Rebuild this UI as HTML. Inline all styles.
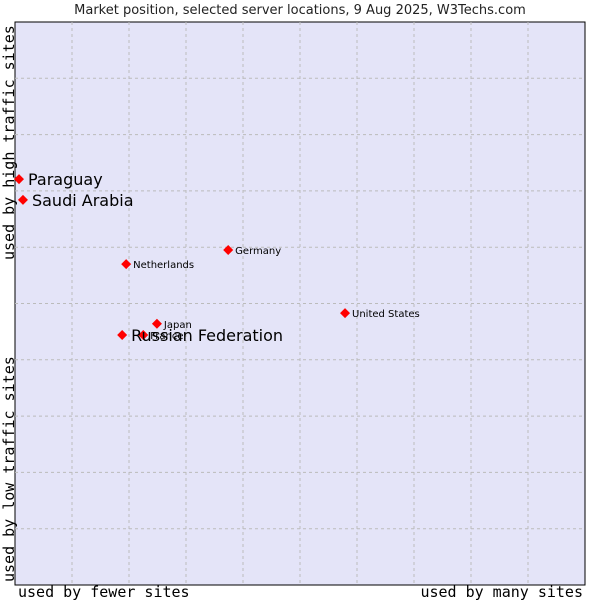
<!DOCTYPE html>
<html><head><meta charset="utf-8"><style>
body{margin:0;background:#fff;width:600px;height:600px;overflow:hidden}
svg text{font-family:"DejaVu Sans","Liberation Sans",sans-serif}
</style></head><body>
<svg id="chart" width="600" height="600">
<text x="300" y="14" text-anchor="middle" font-size="13" fill="#222">Market position, selected server locations, 9 Aug 2025, W3Techs.com</text>
<rect x="15" y="22" width="570" height="563" fill="#e4e4f8" stroke="#000" stroke-width="1"/>
<g id="grid"></g>
<g id="points"></g>
<text x="18" y="597" font-size="15" fill="#000" style="font-family:'DejaVu Sans Mono',monospace">used by fewer sites</text>
<text x="583" y="597" text-anchor="end" font-size="15" fill="#000" style="font-family:'DejaVu Sans Mono',monospace">used by many sites</text>
<text transform="translate(14,582) rotate(-90)" font-size="15" fill="#000" style="font-family:'DejaVu Sans Mono',monospace">used by low traffic sites</text>
<text transform="translate(14,260) rotate(-90)" font-size="15" fill="#000" style="font-family:'DejaVu Sans Mono',monospace">used by high traffic sites</text>
</svg>
<script>
const names=["Paraguay","Saudi Arabia","Netherlands","Germany","United States","Japan","France","Russian Federation"];
const xValues=[0.7,1.4,19.5,37.4,57.9,24.9,22.5,18.8];
const yValues=[72.1,68.4,57.0,59.5,48.3,46.4,44.4,44.4];
const bigLabel=[true,true,false,false,false,false,false,true];
const gridTicks=[10,20,30,40,50,60,70,80,90];
const L=15,R=585,T=22,B=585;
const sx=v=>L+v/100*(R-L);
const sy=v=>B-v/100*(B-T);
const NS="http://www.w3.org/2000/svg";
const grid=document.getElementById('grid');
gridTicks.forEach(t=>{
  const v=document.createElementNS(NS,'line');
  v.setAttribute('x1',sx(t));v.setAttribute('x2',sx(t));v.setAttribute('y1',T);v.setAttribute('y2',B);
  v.setAttribute('stroke','#bbb');v.setAttribute('stroke-dasharray','3,3');
  
  
  grid.appendChild(v);
  const h=document.createElementNS(NS,'line');
  h.setAttribute('x1',L);h.setAttribute('x2',R);h.setAttribute('y1',sy(t));h.setAttribute('y2',sy(t));
  h.setAttribute('stroke','#bbb');h.setAttribute('stroke-dasharray','3,3');
  
  
  grid.appendChild(h);
});
const pts=document.getElementById('points');
const order=[2,3,4,5,6,7,0,1];
order.forEach(i=>{
  const x=sx(xValues[i]),y=sy(yValues[i]);
  const d=document.createElementNS(NS,'polygon');
  d.setAttribute('points',`${x},${y-5} ${x+5},${y} ${x},${y+5} ${x-5},${y}`);
  d.setAttribute('fill','#f00');
  
  
  pts.appendChild(d);
  const t=document.createElementNS(NS,'text');
  t.setAttribute('x',x+(bigLabel[i]?9:7));
  t.setAttribute('y',y+(bigLabel[i]?6:4));
  t.setAttribute('font-size',bigLabel[i]?16:10);
  t.setAttribute('fill','#000');
  t.textContent=names[i];
  
  
  pts.appendChild(t);
});
</script>
</body></html>
